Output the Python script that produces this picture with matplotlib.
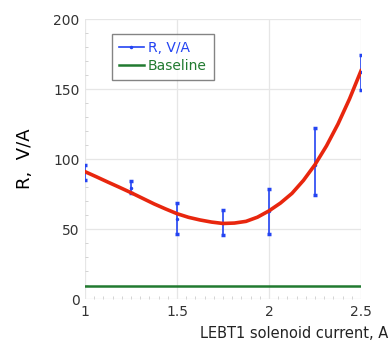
import numpy as np
import matplotlib
matplotlib.use("Agg")
import matplotlib.pyplot as plt
from matplotlib.ticker import MultipleLocator

# measured points with error bars
current = [1.0, 1.25, 1.5, 1.75, 2.0, 2.25, 2.5]
r_mid = [90.5, 79.5, 57, 54.5, 63, 96, 162]
r_low = [85, 76, 46.5, 46, 46.5, 74, 149.5]
r_high = [95.5, 84.5, 68.5, 63.5, 78.5, 122.5, 174]

# fitted curve
fit_x = [1.0, 1.0625, 1.125, 1.1875, 1.25, 1.3125, 1.375, 1.4375, 1.5,
         1.5625, 1.625, 1.6875, 1.75, 1.8125, 1.875, 1.9375, 2.0,
         2.0625, 2.125, 2.1875, 2.25, 2.3125, 2.375, 2.4375, 2.5]
fit_y = [91, 87.3, 83.5, 79.8, 76, 72, 68, 64.4, 61,
         58.4, 56.5, 55, 54, 54.3, 55.5, 58.5, 63,
         68.6, 75.5, 84.8, 96, 109.4, 125, 142.9, 163]

baseline_x = [1.0, 2.5]
baseline_y = [9, 9]

blue = "#2444f2"
red = "#e8260e"
green = "#217a30"

fig = plt.figure(figsize=(3.89, 3.43), dpi=100)
ax = fig.add_axes([0.2185, 0.128, 0.7095, 0.8166])

lo = np.array(r_mid) - np.array(r_low)
hi = np.array(r_high) - np.array(r_mid)
ax.errorbar(current, r_mid, yerr=[lo, hi], fmt=".", ms=3, color=blue,
            ecolor=blue, elinewidth=1.2, capsize=1.2, capthick=2.5, zorder=3)
ax.plot([], [], "-", marker=".", ms=3, color=blue, lw=1.2, label="R, V/A")
ax.plot(fit_x, fit_y, color=red, lw=2.6, zorder=4, solid_joinstyle="round")
ax.plot(baseline_x, baseline_y, color=green, lw=1.8, label="Baseline")

ax.set_xlim(1, 2.5)
ax.set_ylim(0, 200)
ax.xaxis.set_major_locator(MultipleLocator(0.5))
ax.xaxis.set_minor_locator(MultipleLocator(0.05))
ax.yaxis.set_major_locator(MultipleLocator(50))
ax.yaxis.set_minor_locator(MultipleLocator(10))
ax.set_xticks([1, 1.5, 2, 2.5])
ax.set_xticklabels(["1", "1.5", "2", "2.5"])

ax.grid(True, which="major", color="#e6e6e6", lw=0.9)
for s in ax.spines.values():
    s.set_visible(False)
ax.tick_params(which="both", direction="in", color="#cccccc", labelsize=10,
               labelcolor="#333333")
ax.tick_params(which="major", length=0, pad=4)
ax.tick_params(which="minor", length=2.5)

ax.set_ylabel("R,  V/A", fontsize=13, labelpad=14)
fig.text(0.998, 0.005, "LEBT1 solenoid current, A", ha="right", va="bottom",
         fontsize=10.5, color="#222222")

leg = ax.legend(loc="upper left", bbox_to_anchor=(0.097, 0.945), fontsize=10,
                frameon=True, fancybox=False, edgecolor="#666666",
                handlelength=1.8, handletextpad=0.3, borderpad=0.5,
                labelspacing=0.25, borderaxespad=0)
leg.get_frame().set_linewidth(1.0)
for t, c in zip(leg.get_texts(), [blue, green]):
    t.set_color(c)

fig.savefig("out.png", dpi=100)
